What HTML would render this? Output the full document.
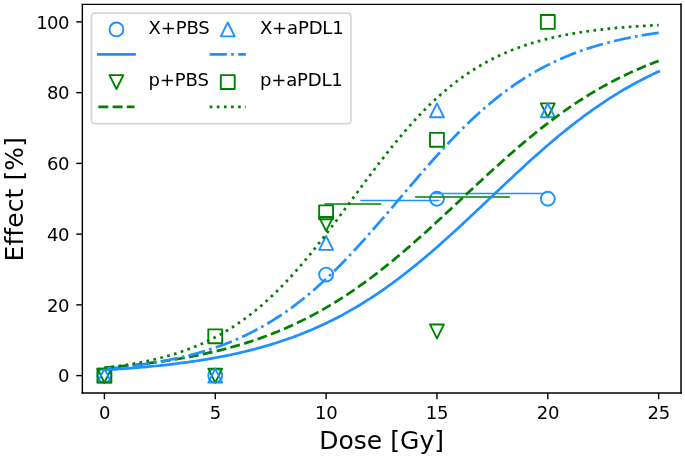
<!DOCTYPE html>
<html><head><meta charset="utf-8"><title>Dose response</title>
<style>html,body{margin:0;padding:0;background:#fff}svg{display:block}text{font-family:"DejaVu Sans","Liberation Sans",sans-serif;fill:#000}</style></head><body>
<svg width="685" height="459" viewBox="0 0 685 459">
<rect width="685" height="459" fill="#fff"/>
<g fill="none" stroke-width="1.88" stroke-linejoin="round">
<circle cx="104.40" cy="375.60" r="6.95" stroke="#1E90FF"/>
<circle cx="215.25" cy="375.60" r="6.95" stroke="#1E90FF"/>
<circle cx="326.10" cy="274.55" r="6.95" stroke="#1E90FF"/>
<circle cx="436.95" cy="198.75" r="6.95" stroke="#1E90FF"/>
<circle cx="547.80" cy="198.75" r="6.95" stroke="#1E90FF"/>
<path d="M104.40 382.55 L97.46 368.66 L111.34 368.66 Z" stroke="#008000"/>
<path d="M215.25 382.55 L208.31 368.66 L222.19 368.66 Z" stroke="#008000"/>
<path d="M326.10 230.95 L319.16 217.06 L333.05 217.06 Z" stroke="#008000"/>
<path d="M436.95 338.33 L430.01 324.44 L443.90 324.44 Z" stroke="#008000"/>
<path d="M547.80 117.27 L540.86 103.38 L554.75 103.38 Z" stroke="#008000"/>
<path d="M104.40 368.66 L97.46 382.55 L111.34 382.55 Z" stroke="#1E90FF"/>
<path d="M215.25 368.66 L208.31 382.55 L222.19 382.55 Z" stroke="#1E90FF"/>
<path d="M326.10 236.02 L319.16 249.91 L333.05 249.91 Z" stroke="#1E90FF"/>
<path d="M436.95 103.38 L430.01 117.27 L443.90 117.27 Z" stroke="#1E90FF"/>
<path d="M547.80 103.38 L540.86 117.27 L554.75 117.27 Z" stroke="#1E90FF"/>
<rect x="97.46" y="368.66" width="13.89" height="13.89" stroke="#008000"/>
<rect x="208.31" y="329.36" width="13.89" height="13.89" stroke="#008000"/>
<rect x="319.16" y="205.42" width="13.89" height="13.89" stroke="#008000"/>
<rect x="430.01" y="132.84" width="13.89" height="13.89" stroke="#008000"/>
<rect x="540.86" y="14.96" width="13.89" height="13.89" stroke="#008000"/>
</g>
<g stroke-width="1.60">
<path d="M324.50 204.06 H381.20" stroke="#008000"/>
<path d="M360.30 200.52 H439.40" stroke="#1E90FF"/>
<path d="M415.10 196.98 H510.00" stroke="#008000"/>
<path d="M433.50 193.44 H543.50" stroke="#1E90FF"/>
</g>
<g fill="none" stroke-width="2.72" stroke-linejoin="round">
<path d="M104.40 369.97 L106.62 369.83 L108.83 369.70 L111.05 369.56 L113.27 369.41 L115.49 369.27 L117.70 369.12 L119.92 368.97 L122.14 368.81 L124.35 368.65 L126.57 368.49 L128.79 368.32 L131.00 368.15 L133.22 367.97 L135.44 367.79 L137.66 367.61 L139.87 367.42 L142.09 367.23 L144.31 367.03 L146.52 366.83 L148.74 366.63 L150.96 366.42 L153.17 366.20 L155.39 365.98 L157.61 365.76 L159.83 365.53 L162.04 365.29 L164.26 365.05 L166.48 364.81 L168.69 364.56 L170.91 364.30 L173.13 364.04 L175.34 363.77 L177.56 363.49 L179.78 363.21 L182.00 362.93 L184.21 362.63 L186.43 362.33 L188.65 362.03 L190.86 361.71 L193.08 361.39 L195.30 361.07 L197.51 360.73 L199.73 360.39 L201.95 360.04 L204.17 359.68 L206.38 359.32 L208.60 358.94 L210.82 358.56 L213.03 358.17 L215.25 357.78 L217.47 357.37 L219.68 356.96 L221.90 356.53 L224.12 356.10 L226.34 355.66 L228.55 355.21 L230.77 354.74 L232.99 354.27 L235.20 353.79 L237.42 353.30 L239.64 352.80 L241.85 352.29 L244.07 351.77 L246.29 351.23 L248.51 350.69 L250.72 350.13 L252.94 349.57 L255.16 348.99 L257.37 348.40 L259.59 347.79 L261.81 347.18 L264.02 346.55 L266.24 345.91 L268.46 345.26 L270.68 344.60 L272.89 343.92 L275.11 343.23 L277.33 342.52 L279.54 341.80 L281.76 341.07 L283.98 340.32 L286.19 339.56 L288.41 338.79 L290.63 338.00 L292.85 337.19 L295.06 336.37 L297.28 335.53 L299.50 334.68 L301.71 333.82 L303.93 332.93 L306.15 332.03 L308.36 331.12 L310.58 330.19 L312.80 329.24 L315.01 328.27 L317.23 327.29 L319.45 326.29 L321.67 325.28 L323.88 324.24 L326.10 323.19 L328.32 322.12 L330.53 321.04 L332.75 319.93 L334.97 318.81 L337.19 317.67 L339.40 316.51 L341.62 315.33 L343.84 314.13 L346.05 312.92 L348.27 311.68 L350.49 310.43 L352.70 309.16 L354.92 307.87 L357.14 306.56 L359.36 305.23 L361.57 303.88 L363.79 302.51 L366.01 301.13 L368.22 299.72 L370.44 298.30 L372.66 296.85 L374.87 295.39 L377.09 293.91 L379.31 292.41 L381.52 290.89 L383.74 289.35 L385.96 287.79 L388.18 286.21 L390.39 284.62 L392.61 283.00 L394.83 281.37 L397.04 279.72 L399.26 278.05 L401.48 276.36 L403.70 274.66 L405.91 272.94 L408.13 271.20 L410.35 269.44 L412.56 267.67 L414.78 265.88 L417.00 264.08 L419.21 262.26 L421.43 260.42 L423.65 258.57 L425.87 256.70 L428.08 254.82 L430.30 252.92 L432.52 251.02 L434.73 249.09 L436.95 247.16 L439.17 245.21 L441.38 243.25 L443.60 241.27 L445.82 239.29 L448.04 237.30 L450.25 235.29 L452.47 233.28 L454.69 231.25 L456.90 229.22 L459.12 227.18 L461.34 225.13 L463.55 223.07 L465.77 221.01 L467.99 218.94 L470.21 216.86 L472.42 214.78 L474.64 212.70 L476.86 210.61 L479.07 208.52 L481.29 206.42 L483.51 204.33 L485.72 202.23 L487.94 200.13 L490.16 198.03 L492.38 195.93 L494.59 193.83 L496.81 191.74 L499.03 189.64 L501.24 187.55 L503.46 185.46 L505.68 183.37 L507.89 181.29 L510.11 179.21 L512.33 177.14 L514.55 175.08 L516.76 173.02 L518.98 170.97 L521.20 168.92 L523.41 166.89 L525.63 164.86 L527.85 162.84 L530.06 160.83 L532.28 158.84 L534.50 156.85 L536.72 154.87 L538.93 152.91 L541.15 150.96 L543.37 149.02 L545.58 147.09 L547.80 145.18 L550.02 143.28 L552.23 141.39 L554.45 139.52 L556.67 137.66 L558.88 135.82 L561.10 133.99 L563.32 132.18 L565.54 130.39 L567.75 128.61 L569.97 126.85 L572.19 125.11 L574.40 123.38 L576.62 121.67 L578.84 119.98 L581.06 118.30 L583.27 116.65 L585.49 115.01 L587.71 113.39 L589.92 111.79 L592.14 110.21 L594.36 108.64 L596.57 107.10 L598.79 105.57 L601.01 104.06 L603.23 102.58 L605.44 101.11 L607.66 99.66 L609.88 98.23 L612.09 96.81 L614.31 95.42 L616.53 94.05 L618.74 92.69 L620.96 91.36 L623.18 90.04 L625.39 88.75 L627.61 87.47 L629.83 86.21 L632.05 84.97 L634.26 83.75 L636.48 82.55 L638.70 81.36 L640.91 80.20 L643.13 79.05 L645.35 77.92 L647.57 76.81 L649.78 75.72 L652.00 74.64 L654.22 73.59 L656.43 72.55 L658.65 71.53" stroke="#1E90FF" stroke-linecap="square"/>
<path d="M104.40 367.76 L106.62 367.57 L108.83 367.39 L111.05 367.20 L113.27 367.00 L115.49 366.80 L117.70 366.60 L119.92 366.39 L122.14 366.18 L124.35 365.96 L126.57 365.74 L128.79 365.51 L131.00 365.27 L133.22 365.04 L135.44 364.79 L137.66 364.54 L139.87 364.29 L142.09 364.03 L144.31 363.76 L146.52 363.49 L148.74 363.21 L150.96 362.93 L153.17 362.64 L155.39 362.34 L157.61 362.04 L159.83 361.73 L162.04 361.41 L164.26 361.09 L166.48 360.76 L168.69 360.42 L170.91 360.08 L173.13 359.73 L175.34 359.37 L177.56 359.00 L179.78 358.62 L182.00 358.24 L184.21 357.85 L186.43 357.45 L188.65 357.04 L190.86 356.62 L193.08 356.19 L195.30 355.76 L197.51 355.31 L199.73 354.86 L201.95 354.40 L204.17 353.92 L206.38 353.44 L208.60 352.95 L210.82 352.44 L213.03 351.93 L215.25 351.41 L217.47 350.87 L219.68 350.32 L221.90 349.77 L224.12 349.20 L226.34 348.62 L228.55 348.03 L230.77 347.42 L232.99 346.81 L235.20 346.18 L237.42 345.54 L239.64 344.89 L241.85 344.22 L244.07 343.55 L246.29 342.85 L248.51 342.15 L250.72 341.43 L252.94 340.70 L255.16 339.95 L257.37 339.19 L259.59 338.42 L261.81 337.63 L264.02 336.83 L266.24 336.01 L268.46 335.17 L270.68 334.33 L272.89 333.46 L275.11 332.58 L277.33 331.69 L279.54 330.77 L281.76 329.85 L283.98 328.90 L286.19 327.94 L288.41 326.96 L290.63 325.97 L292.85 324.96 L295.06 323.93 L297.28 322.89 L299.50 321.82 L301.71 320.74 L303.93 319.65 L306.15 318.53 L308.36 317.40 L310.58 316.25 L312.80 315.08 L315.01 313.89 L317.23 312.68 L319.45 311.46 L321.67 310.21 L323.88 308.95 L326.10 307.67 L328.32 306.37 L330.53 305.06 L332.75 303.72 L334.97 302.37 L337.19 300.99 L339.40 299.60 L341.62 298.19 L343.84 296.76 L346.05 295.31 L348.27 293.84 L350.49 292.36 L352.70 290.85 L354.92 289.33 L357.14 287.79 L359.36 286.23 L361.57 284.65 L363.79 283.05 L366.01 281.44 L368.22 279.80 L370.44 278.15 L372.66 276.49 L374.87 274.80 L377.09 273.10 L379.31 271.38 L381.52 269.65 L383.74 267.90 L385.96 266.13 L388.18 264.34 L390.39 262.54 L392.61 260.73 L394.83 258.90 L397.04 257.05 L399.26 255.20 L401.48 253.32 L403.70 251.44 L405.91 249.54 L408.13 247.62 L410.35 245.70 L412.56 243.76 L414.78 241.81 L417.00 239.85 L419.21 237.88 L421.43 235.90 L423.65 233.91 L425.87 231.91 L428.08 229.90 L430.30 227.89 L432.52 225.86 L434.73 223.83 L436.95 221.79 L439.17 219.75 L441.38 217.69 L443.60 215.64 L445.82 213.58 L448.04 211.51 L450.25 209.44 L452.47 207.37 L454.69 205.30 L456.90 203.22 L459.12 201.15 L461.34 199.07 L463.55 196.99 L465.77 194.92 L467.99 192.84 L470.21 190.77 L472.42 188.69 L474.64 186.62 L476.86 184.56 L479.07 182.50 L481.29 180.44 L483.51 178.39 L485.72 176.34 L487.94 174.30 L490.16 172.26 L492.38 170.24 L494.59 168.22 L496.81 166.21 L499.03 164.20 L501.24 162.21 L503.46 160.23 L505.68 158.25 L507.89 156.29 L510.11 154.34 L512.33 152.40 L514.55 150.47 L516.76 148.55 L518.98 146.65 L521.20 144.76 L523.41 142.88 L525.63 141.02 L527.85 139.17 L530.06 137.33 L532.28 135.51 L534.50 133.71 L536.72 131.92 L538.93 130.15 L541.15 128.39 L543.37 126.65 L545.58 124.93 L547.80 123.22 L550.02 121.53 L552.23 119.86 L554.45 118.20 L556.67 116.57 L558.88 114.95 L561.10 113.34 L563.32 111.76 L565.54 110.19 L567.75 108.65 L569.97 107.12 L572.19 105.61 L574.40 104.12 L576.62 102.64 L578.84 101.19 L581.06 99.75 L583.27 98.33 L585.49 96.94 L587.71 95.56 L589.92 94.20 L592.14 92.85 L594.36 91.53 L596.57 90.23 L598.79 88.94 L601.01 87.67 L603.23 86.42 L605.44 85.19 L607.66 83.98 L609.88 82.79 L612.09 81.61 L614.31 80.46 L616.53 79.32 L618.74 78.20 L620.96 77.09 L623.18 76.01 L625.39 74.94 L627.61 73.89 L629.83 72.86 L632.05 71.84 L634.26 70.84 L636.48 69.86 L638.70 68.89 L640.91 67.94 L643.13 67.01 L645.35 66.09 L647.57 65.19 L649.78 64.31 L652.00 63.44 L654.22 62.59 L656.43 61.75 L658.65 60.92" stroke="#008000" stroke-dasharray="9.91 4.29"/>
<path d="M104.40 368.79 L106.62 368.59 L108.83 368.38 L111.05 368.17 L113.27 367.95 L115.49 367.73 L117.70 367.50 L119.92 367.26 L122.14 367.02 L124.35 366.77 L126.57 366.51 L128.79 366.24 L131.00 365.97 L133.22 365.69 L135.44 365.40 L137.66 365.11 L139.87 364.80 L142.09 364.49 L144.31 364.17 L146.52 363.83 L148.74 363.49 L150.96 363.14 L153.17 362.78 L155.39 362.41 L157.61 362.03 L159.83 361.64 L162.04 361.24 L164.26 360.83 L166.48 360.41 L168.69 359.97 L170.91 359.52 L173.13 359.07 L175.34 358.59 L177.56 358.11 L179.78 357.61 L182.00 357.10 L184.21 356.58 L186.43 356.04 L188.65 355.48 L190.86 354.92 L193.08 354.33 L195.30 353.74 L197.51 353.12 L199.73 352.49 L201.95 351.85 L204.17 351.18 L206.38 350.51 L208.60 349.81 L210.82 349.09 L213.03 348.36 L215.25 347.61 L217.47 346.84 L219.68 346.05 L221.90 345.24 L224.12 344.41 L226.34 343.56 L228.55 342.69 L230.77 341.79 L232.99 340.88 L235.20 339.95 L237.42 338.99 L239.64 338.01 L241.85 337.00 L244.07 335.98 L246.29 334.93 L248.51 333.85 L250.72 332.75 L252.94 331.63 L255.16 330.48 L257.37 329.30 L259.59 328.10 L261.81 326.87 L264.02 325.62 L266.24 324.34 L268.46 323.03 L270.68 321.70 L272.89 320.33 L275.11 318.94 L277.33 317.52 L279.54 316.07 L281.76 314.60 L283.98 313.09 L286.19 311.56 L288.41 310.00 L290.63 308.40 L292.85 306.78 L295.06 305.13 L297.28 303.45 L299.50 301.74 L301.71 300.00 L303.93 298.23 L306.15 296.43 L308.36 294.60 L310.58 292.74 L312.80 290.85 L315.01 288.93 L317.23 286.99 L319.45 285.01 L321.67 283.01 L323.88 280.98 L326.10 278.92 L328.32 276.83 L330.53 274.71 L332.75 272.57 L334.97 270.40 L337.19 268.20 L339.40 265.98 L341.62 263.74 L343.84 261.47 L346.05 259.17 L348.27 256.85 L350.49 254.51 L352.70 252.15 L354.92 249.77 L357.14 247.36 L359.36 244.94 L361.57 242.50 L363.79 240.04 L366.01 237.56 L368.22 235.07 L370.44 232.56 L372.66 230.04 L374.87 227.50 L377.09 224.95 L379.31 222.39 L381.52 219.83 L383.74 217.25 L385.96 214.66 L388.18 212.07 L390.39 209.47 L392.61 206.87 L394.83 204.26 L397.04 201.65 L399.26 199.04 L401.48 196.43 L403.70 193.82 L405.91 191.21 L408.13 188.61 L410.35 186.00 L412.56 183.41 L414.78 180.82 L417.00 178.24 L419.21 175.67 L421.43 173.11 L423.65 170.56 L425.87 168.02 L428.08 165.50 L430.30 162.98 L432.52 160.49 L434.73 158.01 L436.95 155.54 L439.17 153.10 L441.38 150.67 L443.60 148.26 L445.82 145.87 L448.04 143.51 L450.25 141.16 L452.47 138.84 L454.69 136.54 L456.90 134.26 L459.12 132.01 L461.34 129.78 L463.55 127.58 L465.77 125.41 L467.99 123.26 L470.21 121.14 L472.42 119.04 L474.64 116.98 L476.86 114.94 L479.07 112.93 L481.29 110.95 L483.51 108.99 L485.72 107.07 L487.94 105.17 L490.16 103.31 L492.38 101.47 L494.59 99.67 L496.81 97.89 L499.03 96.14 L501.24 94.43 L503.46 92.74 L505.68 91.08 L507.89 89.45 L510.11 87.85 L512.33 86.28 L514.55 84.74 L516.76 83.23 L518.98 81.75 L521.20 80.29 L523.41 78.87 L525.63 77.47 L527.85 76.10 L530.06 74.76 L532.28 73.45 L534.50 72.16 L536.72 70.90 L538.93 69.67 L541.15 68.46 L543.37 67.28 L545.58 66.12 L547.80 64.99 L550.02 63.89 L552.23 62.81 L554.45 61.75 L556.67 60.72 L558.88 59.71 L561.10 58.73 L563.32 57.76 L565.54 56.82 L567.75 55.90 L569.97 55.01 L572.19 54.13 L574.40 53.28 L576.62 52.44 L578.84 51.63 L581.06 50.84 L583.27 50.06 L585.49 49.30 L587.71 48.57 L589.92 47.85 L592.14 47.15 L594.36 46.46 L596.57 45.80 L598.79 45.15 L601.01 44.51 L603.23 43.90 L605.44 43.30 L607.66 42.71 L609.88 42.14 L612.09 41.58 L614.31 41.04 L616.53 40.51 L618.74 40.00 L620.96 39.50 L623.18 39.01 L625.39 38.54 L627.61 38.08 L629.83 37.63 L632.05 37.19 L634.26 36.76 L636.48 36.35 L638.70 35.94 L640.91 35.55 L643.13 35.17 L645.35 34.80 L647.57 34.43 L649.78 34.08 L652.00 33.74 L654.22 33.41 L656.43 33.08 L658.65 32.77" stroke="#1E90FF" stroke-dasharray="17.15 4.29 2.68 4.29"/>
<path d="M104.40 367.90 L106.62 367.64 L108.83 367.38 L111.05 367.10 L113.27 366.81 L115.49 366.51 L117.70 366.21 L119.92 365.89 L122.14 365.57 L124.35 365.23 L126.57 364.88 L128.79 364.52 L131.00 364.15 L133.22 363.77 L135.44 363.37 L137.66 362.97 L139.87 362.55 L142.09 362.11 L144.31 361.66 L146.52 361.20 L148.74 360.72 L150.96 360.23 L153.17 359.72 L155.39 359.20 L157.61 358.66 L159.83 358.10 L162.04 357.53 L164.26 356.94 L166.48 356.33 L168.69 355.70 L170.91 355.05 L173.13 354.38 L175.34 353.69 L177.56 352.98 L179.78 352.25 L182.00 351.50 L184.21 350.73 L186.43 349.93 L188.65 349.11 L190.86 348.26 L193.08 347.39 L195.30 346.49 L197.51 345.57 L199.73 344.63 L201.95 343.65 L204.17 342.65 L206.38 341.62 L208.60 340.56 L210.82 339.47 L213.03 338.35 L215.25 337.21 L217.47 336.03 L219.68 334.82 L221.90 333.57 L224.12 332.30 L226.34 330.99 L228.55 329.65 L230.77 328.27 L232.99 326.86 L235.20 325.41 L237.42 323.93 L239.64 322.41 L241.85 320.85 L244.07 319.26 L246.29 317.63 L248.51 315.97 L250.72 314.26 L252.94 312.52 L255.16 310.74 L257.37 308.92 L259.59 307.06 L261.81 305.16 L264.02 303.22 L266.24 301.24 L268.46 299.23 L270.68 297.17 L272.89 295.08 L275.11 292.94 L277.33 290.77 L279.54 288.56 L281.76 286.31 L283.98 284.02 L286.19 281.69 L288.41 279.33 L290.63 276.93 L292.85 274.49 L295.06 272.02 L297.28 269.51 L299.50 266.96 L301.71 264.39 L303.93 261.78 L306.15 259.14 L308.36 256.47 L310.58 253.77 L312.80 251.04 L315.01 248.28 L317.23 245.50 L319.45 242.69 L321.67 239.85 L323.88 237.00 L326.10 234.12 L328.32 231.23 L330.53 228.31 L332.75 225.38 L334.97 222.44 L337.19 219.48 L339.40 216.51 L341.62 213.52 L343.84 210.53 L346.05 207.54 L348.27 204.54 L350.49 201.53 L352.70 198.52 L354.92 195.52 L357.14 192.51 L359.36 189.51 L361.57 186.52 L363.79 183.53 L366.01 180.55 L368.22 177.58 L370.44 174.62 L372.66 171.68 L374.87 168.75 L377.09 165.84 L379.31 162.95 L381.52 160.07 L383.74 157.22 L385.96 154.39 L388.18 151.59 L390.39 148.81 L392.61 146.05 L394.83 143.33 L397.04 140.63 L399.26 137.96 L401.48 135.33 L403.70 132.72 L405.91 130.15 L408.13 127.62 L410.35 125.11 L412.56 122.64 L414.78 120.21 L417.00 117.82 L419.21 115.46 L421.43 113.14 L423.65 110.85 L425.87 108.61 L428.08 106.40 L430.30 104.24 L432.52 102.11 L434.73 100.02 L436.95 97.97 L439.17 95.96 L441.38 93.99 L443.60 92.05 L445.82 90.16 L448.04 88.31 L450.25 86.49 L452.47 84.72 L454.69 82.98 L456.90 81.28 L459.12 79.62 L461.34 78.00 L463.55 76.41 L465.77 74.86 L467.99 73.35 L470.21 71.87 L472.42 70.43 L474.64 69.02 L476.86 67.65 L479.07 66.31 L481.29 65.01 L483.51 63.74 L485.72 62.50 L487.94 61.29 L490.16 60.12 L492.38 58.98 L494.59 57.86 L496.81 56.78 L499.03 55.72 L501.24 54.70 L503.46 53.70 L505.68 52.73 L507.89 51.79 L510.11 50.87 L512.33 49.98 L514.55 49.11 L516.76 48.27 L518.98 47.45 L521.20 46.66 L523.41 45.89 L525.63 45.14 L527.85 44.41 L530.06 43.70 L532.28 43.02 L534.50 42.35 L536.72 41.71 L538.93 41.08 L541.15 40.47 L543.37 39.88 L545.58 39.31 L547.80 38.76 L550.02 38.22 L552.23 37.70 L554.45 37.19 L556.67 36.70 L558.88 36.23 L561.10 35.77 L563.32 35.32 L565.54 34.89 L567.75 34.47 L569.97 34.07 L572.19 33.67 L574.40 33.29 L576.62 32.92 L578.84 32.57 L581.06 32.22 L583.27 31.88 L585.49 31.56 L587.71 31.24 L589.92 30.94 L592.14 30.65 L594.36 30.36 L596.57 30.08 L598.79 29.82 L601.01 29.56 L603.23 29.31 L605.44 29.06 L607.66 28.83 L609.88 28.60 L612.09 28.38 L614.31 28.17 L616.53 27.96 L618.74 27.76 L620.96 27.57 L623.18 27.38 L625.39 27.20 L627.61 27.03 L629.83 26.86 L632.05 26.70 L634.26 26.54 L636.48 26.39 L638.70 26.24 L640.91 26.09 L643.13 25.96 L645.35 25.82 L647.57 25.69 L649.78 25.57 L652.00 25.44 L654.22 25.33 L656.43 25.21 L658.65 25.10" stroke="#008000" stroke-dasharray="2.68 4.42"/>
</g>
<g stroke="#000" stroke-linecap="square"><path d="M82.35 4.35 V393.00" stroke-width="1.4"/><path d="M82.35 4.35 H681.00" stroke-width="1.4"/><path d="M681.00 4.35 V393.00" stroke-width="1.5"/><path d="M82.35 393.00 H681.00" stroke-width="1.5"/></g>
<g stroke="#000" stroke-width="1.40">
<path d="M104.40 393.00 v6.20"/>
<path d="M215.25 393.00 v6.20"/>
<path d="M326.10 393.00 v6.20"/>
<path d="M436.95 393.00 v6.20"/>
<path d="M547.80 393.00 v6.20"/>
<path d="M658.65 393.00 v6.20"/>
<path d="M82.50 375.60 h-6.20"/>
<path d="M82.50 304.86 h-6.20"/>
<path d="M82.50 234.12 h-6.20"/>
<path d="M82.50 163.38 h-6.20"/>
<path d="M82.50 92.64 h-6.20"/>
<path d="M82.50 21.90 h-6.20"/>
</g>
<g font-size="18.06px">
<text x="104.50" y="419.1" text-anchor="middle" letter-spacing="-0.3">0</text>
<text x="215.35" y="419.1" text-anchor="middle" letter-spacing="-0.3">5</text>
<text x="326.20" y="419.1" text-anchor="middle" letter-spacing="-0.3">10</text>
<text x="437.05" y="419.1" text-anchor="middle" letter-spacing="-0.3">15</text>
<text x="547.90" y="419.1" text-anchor="middle" letter-spacing="-0.3">20</text>
<text x="658.75" y="419.1" text-anchor="middle" letter-spacing="-0.3">25</text>
<text x="68.7" y="382.40" text-anchor="end" letter-spacing="-0.7">0</text>
<text x="68.7" y="311.66" text-anchor="end" letter-spacing="-0.7">20</text>
<text x="68.7" y="240.92" text-anchor="end" letter-spacing="-0.7">40</text>
<text x="68.7" y="170.18" text-anchor="end" letter-spacing="-0.7">60</text>
<text x="68.7" y="99.44" text-anchor="end" letter-spacing="-0.7">80</text>
<text x="68.7" y="28.70" text-anchor="end" letter-spacing="-0.7">100</text>
</g>
<text x="381.65" y="448.9" font-size="25px" text-anchor="middle" letter-spacing="0.05">Dose [Gy]</text>
<text transform="translate(23.0 199.20) rotate(-90)" font-size="25px" text-anchor="middle" letter-spacing="0.1">Effect [%]</text>
<rect x="91.4" y="13.1" width="259.6" height="110.5" rx="3.4" ry="3.4" fill="#fff" fill-opacity="0.8" stroke="#ccc" stroke-opacity="0.8" stroke-width="1.7"/>
<g fill="none" stroke-width="1.88" stroke-linejoin="round">
<circle cx="116.45" cy="29.45" r="6.95" stroke="#1E90FF"/>
<path d="M116.45 89.04 L109.50 75.16 L123.40 75.16 Z" stroke="#008000"/>
<path d="M227.75 22.50 L220.81 36.39 L234.69 36.39 Z" stroke="#1E90FF"/>
<rect x="220.81" y="75.16" width="13.89" height="13.89" stroke="#008000"/>
</g>
<g fill="none" stroke-width="2.72">
<path d="M98.40 54.45 H134.50" stroke="#1E90FF" stroke-linecap="square"/>
<path d="M98.40 106.80 H134.50" stroke="#008000" stroke-dasharray="9.91 4.29"/>
<path d="M209.70 54.45 H245.80" stroke="#1E90FF" stroke-dasharray="17.15 4.29 2.68 4.29"/>
<path d="M209.70 106.80 H245.80" stroke="#008000" stroke-dasharray="2.68 4.42"/>
</g>
<g font-size="18.06px" letter-spacing="-0.18">
<text x="148.60" y="34.05">X+PBS</text>
<text x="148.60" y="86.45">p+PBS</text>
<text x="259.95" y="34.05">X+aPDL1</text>
<text x="259.95" y="86.45">p+aPDL1</text>
</g>
</svg></body></html>
